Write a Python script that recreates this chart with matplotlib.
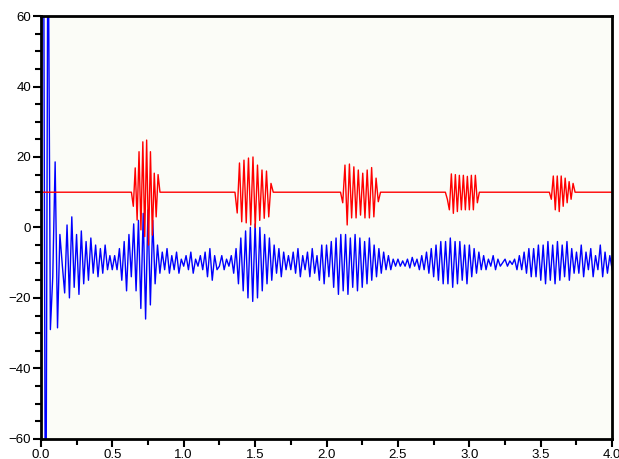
import numpy as np
import matplotlib
matplotlib.use('Agg')
import matplotlib.pyplot as plt
from matplotlib.ticker import MultipleLocator, FormatStrFormatter

plt.rcParams['font.family'] = ['Liberation Sans', 'DejaVu Sans']

# blue trace: extrema, one every 1/60 s from t=0 to t=4
blue_values = [
    0, 130, -120, 100, -29, -14, 18.6, -28.5, -2, -10.6, -18.6, 0.7, -20, 3, -17,
    -2, -19, -1, -16, -4, -15, -3, -13, -5, -14, -6, -13, -5, -12, -8,
    -12, -8, -12, -6, -15, -4, -18, -2, -14, 1, -18, 2, -23, 4, -26,
    5, -22, 2, -16, -5, -13, -7, -12, -6, -13, -8, -12, -7, -13, -9,
    -11, -8, -12, -7, -13, -9, -11, -8, -12, -7, -14, -6, -15, -8, -12,
    -11, -8, -12, -9, -11, -8, -13, -6, -16, -3, -18, -1, -20, 0, -21,
    1, -20, 0, -18, -2, -16, -3, -15, -5, -13, -6, -14, -7, -12, -8,
    -12, -7, -13, -6, -14, -8, -12, -7, -14, -6, -13, -8, -15, -5, -16,
    -5, -14, -4, -17, -3, -19, -2, -18, -2, -19, -3, -17, -2, -18, -3,
    -17, -4, -16, -3, -15, -5, -14, -6, -13, -7, -12, -8, -12, -9, -11,
    -9, -11, -9.5, -11, -9, -11.5, -8.5, -11, -9, -12, -8, -12, -7, -13, -6,
    -14, -5, -15, -4, -16, -4, -16, -3, -17, -4, -16, -4, -15, -5, -16,
    -5, -14, -6, -13, -7, -12, -8, -12, -9, -11, -8, -12, -9, -11, -10,
    -9, -11, -9.5, -10.5, -9, -12, -8, -12, -7, -13, -6, -14, -6, -14, -5,
    -15, -5, -16, -4, -15, -5, -16, -4, -15, -5, -14, -4, -15, -6, -13,
    -7, -13, -5, -14, -7, -12, -6, -14, -8, -12, -5, -14, -7, -13, -8,
    -12,
]
t_end = 4.0

# red trace: flat baseline with five bursts
red_baseline = 10
red_starts = [0.634, 1.359, 2.098, 2.832, 3.56]
red_ends = [0.834, 1.627, 2.378, 3.07, 3.74]
red_burst1 = [6, 16.9, 2.1, 21.5, -0.7, 24.3, -2.6, 24.8, -5, 21.5, -2.2, 15.4, 3, 15]
red_burst2 = [4.1, 18.3, 1.6, 19.1, 1.3, 19.7, 0.7, 20, 0, 17.7, 2, 16.3, 2.6, 16, 3, 12.5]
red_burst3 = [7, 17.7, 0.7, 18, 2.7, 17.2, 2.7, 16.3, 3.5, 15.4, 2.7, 16.3, 2.7, 17, 3, 14, 7.3]
red_burst4 = [8, 5, 15.2, 4, 15, 4.5, 14.8, 5, 14.8, 5, 14.5, 5, 14.8, 5, 14.8, 7]
red_burst5 = [8, 14.6, 5, 14.6, 4.5, 14.6, 6, 14, 7, 13, 8, 12.5]
red_bursts = [red_burst1, red_burst2, red_burst3, red_burst4, red_burst5]

x_ticks = [0.0, 0.5, 1.0, 1.5, 2.0, 2.5, 3.0, 3.5, 4.0]
y_ticks = [-60, -40, -20, 0, 20, 40, 60]


def build_red():
    tx, ty = [0.0], [red_baseline]
    for s, e, vals in zip(red_starts, red_ends, red_bursts):
        pts = np.linspace(s, e, len(vals) + 2)
        tx += list(pts)
        ty += [red_baseline] + vals + [red_baseline]
    tx.append(t_end)
    ty.append(red_baseline)
    return tx, ty


def main():
    fig = plt.figure(figsize=(6.19, 4.59), dpi=100)
    ax = fig.add_axes([0.066, 0.044, 0.923, 0.921])
    ax.set_facecolor('#fbfcf7')

    t_blue = np.linspace(0, t_end, len(blue_values))
    ax.plot(t_blue, blue_values, color='#0000ff', lw=1.0)
    rx, ry = build_red()
    ax.plot(rx, ry, color='#ff0000', lw=1.0)

    ax.set_xlim(0, 4)
    ax.set_ylim(-60, 60)
    ax.set_xticks(x_ticks)
    ax.set_yticks(y_ticks)
    ax.xaxis.set_major_formatter(FormatStrFormatter('%.1f'))
    ax.xaxis.set_minor_locator(MultipleLocator(0.25))
    ax.yaxis.set_minor_locator(MultipleLocator(5))
    ax.tick_params(which='major', direction='out', length=6, width=1.5,
                   labelsize=9.5, pad=1, colors='black')
    ax.tick_params(which='minor', direction='out', length=4, width=1.5)
    for sp in ax.spines.values():
        sp.set_linewidth(2)
        sp.set_color('black')

    fig.savefig('out.png', dpi=100)


if __name__ == '__main__':
    main()
